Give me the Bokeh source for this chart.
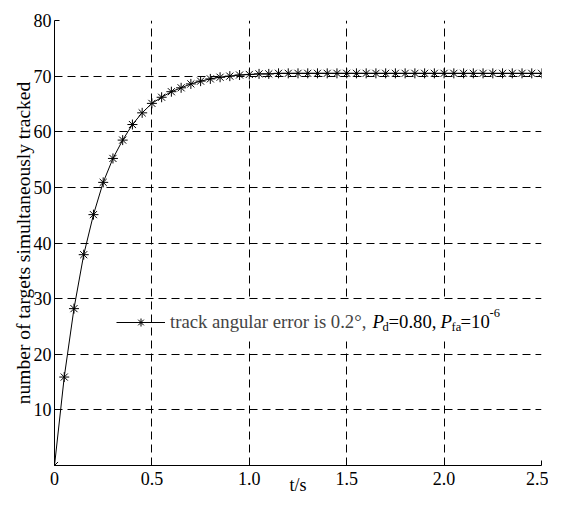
from bokeh.plotting import figure
from bokeh.models import Legend, LegendItem, Label, FixedTicker, Range1d, BoxAnnotation
from bokeh.embed import file_html
from bokeh.resources import INLINE

# ---- data ----
t_values = [0.00, 0.05, 0.10, 0.15, 0.20, 0.25, 0.30, 0.35, 0.40, 0.45,
            0.50, 0.55, 0.60, 0.65, 0.70, 0.75, 0.80, 0.85, 0.90, 0.95,
            1.00, 1.05, 1.10, 1.15, 1.20, 1.25, 1.30, 1.35, 1.40, 1.45,
            1.50, 1.55, 1.60, 1.65, 1.70, 1.75, 1.80, 1.85, 1.90, 1.95,
            2.00, 2.05, 2.10, 2.15, 2.20, 2.25, 2.30, 2.35, 2.40, 2.45, 2.50]
targets = [0.0, 15.9, 28.2, 37.9, 45.1, 50.9, 55.2, 58.5, 61.3, 63.4,
           65.1, 66.2, 67.2, 67.9, 68.6, 69.1, 69.5, 69.8, 70.0, 70.2,
           70.3, 70.4, 70.4, 70.5, 70.5, 70.5, 70.5, 70.5, 70.5, 70.5,
           70.5, 70.5, 70.5, 70.5, 70.5, 70.5, 70.5, 70.5, 70.5, 70.5,
           70.5, 70.5, 70.5, 70.5, 70.5, 70.5, 70.5, 70.5, 70.5, 70.5, 70.5]
x_ticks = [0, 0.5, 1.0, 1.5, 2.0, 2.5]
x_tick_labels = ["0", "0.5", "1.0", "1.5", "2.0", "2.5"]
y_ticks = [10, 20, 30, 40, 50, 60, 70, 80]
legend_text = "track angular error is 0.2°,"
x_label = "t/s"
y_label = "number of targets simultaneously tracked"

FONT = "Liberation Serif"
FS = "18px"
LFS = "18.7px"

p = figure(frame_width=487, frame_height=445,
           min_border_left=54, min_border_right=7, min_border_top=20,
           min_border_bottom=29, output_backend="svg", toolbar_location=None,
           x_range=Range1d(0, 2.5), y_range=Range1d(0, 80))
p.outline_line_color = None
p.background_fill_color = "white"

line_r = p.line(t_values, targets, line_color="black", line_width=1)
mark_r = p.scatter(t_values, targets, marker="asterisk", size=10,
                   line_color="black", line_width=1)

p.xaxis.ticker = FixedTicker(ticks=x_ticks)
p.xaxis.major_label_overrides = {v: s for v, s in zip(x_ticks, x_tick_labels)}
p.yaxis.ticker = FixedTicker(ticks=y_ticks)
for ax in (p.xaxis[0], p.yaxis[0]):
    ax.major_tick_in = 5
    ax.major_tick_out = 0
    ax.minor_tick_in = 0
    ax.minor_tick_out = 0
    ax.axis_line_color = "black"
    ax.major_tick_line_color = "black"
    ax.major_label_text_font = FONT
    ax.major_label_text_font_size = FS
    ax.major_label_text_color = "black"
    ax.axis_label_text_font = FONT
    ax.axis_label_text_font_style = "normal"
    ax.axis_label_text_color = "black"
p.xaxis.major_label_standoff = 6
p.xaxis.axis_label = x_label
p.xaxis.axis_label_text_font_size = FS
p.xaxis.axis_label_standoff = -13
p.yaxis.major_label_standoff = 3
p.yaxis.axis_label = y_label
p.yaxis.axis_label_text_font_size = "19.5px"
p.yaxis.axis_label_standoff = -3

for g in (p.xgrid[0], p.ygrid[0]):
    g.grid_line_color = "black"
    g.grid_line_dash = "8 5"
    g.grid_line_width = 1
    g.grid_line_alpha = 1.0

# white background behind the legend text
p.add_layout(BoxAnnotation(left=115, right=448, bottom=124, top=165,
                           left_units="screen", right_units="screen",
                           bottom_units="screen", top_units="screen",
                           fill_color="white", fill_alpha=1.0, line_color=None))

legend = Legend(items=[LegendItem(label=legend_text, renderers=[line_r, mark_r])],
                location=(62, 132), glyph_width=49, glyph_height=20,
                label_text_font=FONT, label_text_font_size=LFS,
                label_standoff=5, border_line_color=None,
                background_fill_alpha=0.0, padding=2, margin=0)
p.add_layout(legend)

# rich parts of the legend text
parts = [
    ("P", 318, 144, LFS, "italic"),
    ("d", 328, 139, "12.5px", "normal"),
    ("=0.80,", 334, 144, LFS, "normal"),
    ("P", 386, 144, LFS, "italic"),
    ("fa", 397, 139, "12.5px", "normal"),
    ("=10", 406, 144, LFS, "normal"),
    ("-6", 435, 153, "12.5px", "normal"),
]
for txt, sx, sy, fs, st in parts:
    p.add_layout(Label(x=sx, y=sy, x_units="screen", y_units="screen", text=txt,
                       text_font=FONT, text_font_size=fs, text_font_style=st,
                       text_color="black", text_baseline="middle"))

open("out.html", "w").write(file_html(p, INLINE))
